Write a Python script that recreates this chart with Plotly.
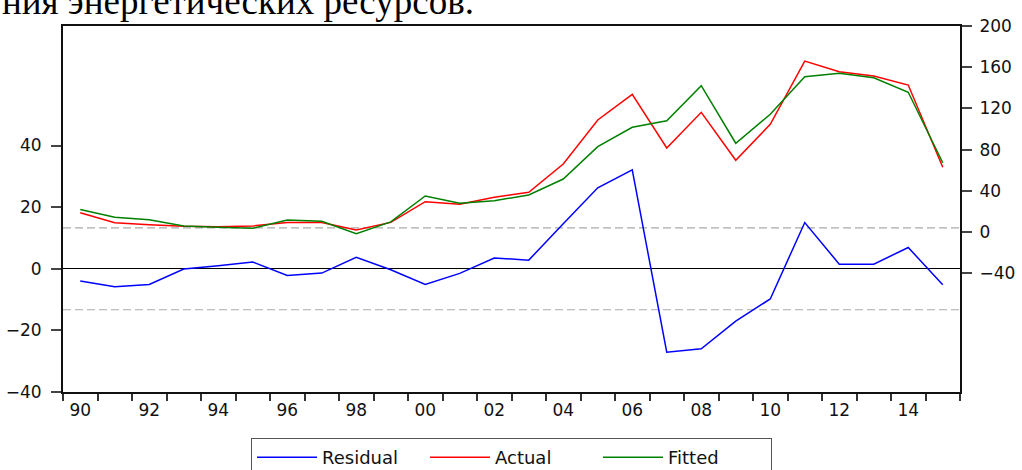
import plotly.graph_objects as go

# ---- data ----
years = list(range(1990, 2016))
residual = [-4.0, -5.8, -5.1, -0.1, 1.0, 2.2, -2.2, -1.4, 3.7, -0.3, -5.1, -1.5, 3.5, 2.8,
            14.6, 26.3, 32.1, -27.1, -26.0, -17.0, -9.8, 15.0, 1.5, 1.5, 6.9, -5.2]
actual = [18.8, 9.1, 7.2, 5.6, 5.2, 5.9, 9.4, 9.4, 2.0, 9.4, 29.5, 27.0, 33.8, 38.6,
          66.1, 108.8, 133.7, 81.6, 116.2, 69.7, 104.6, 166.0, 155.7, 151.5, 142.7, 62.9]
fitted = [22.0, 14.3, 12.0, 5.9, 4.6, 3.7, 11.7, 10.4, -1.6, 9.9, 35.0, 27.9, 30.5, 36.0,
          51.5, 82.9, 101.7, 108.1, 142.1, 86.2, 114.3, 150.8, 154.1, 149.8, 135.7, 67.3]
label_years = years[::2]
label_text = ["%02d" % (y % 100) for y in label_years]
left_ticks = [-40, -20, 0, 20, 40]
right_ticks = [-40, 0, 40, 80, 120, 160, 200]
resid_sd = 13.3
caption = "ния энергетических ресурсов."

W, H = 1022, 470
ML, MR, MT, MB = 63, 62, 26, 78
PH = H - MT - MB

fig = go.Figure()
fig.add_trace(go.Scatter(x=years, y=residual, name="Residual", mode="lines",
                         line=dict(color="#0000ff", width=1.5), yaxis="y"))
fig.add_trace(go.Scatter(x=years, y=actual, name="Actual", mode="lines",
                         line=dict(color="#ff0000", width=1.5), yaxis="y2"))
fig.add_trace(go.Scatter(x=years, y=fitted, name="Fitted", mode="lines",
                         line=dict(color="#008000", width=1.5), yaxis="y2"))

for v in (resid_sd, -resid_sd):
    fig.add_shape(type="line", xref="paper", x0=0, x1=1, yref="y", y0=v, y1=v,
                  line=dict(color="#aaaaaa", width=1.2, dash="8px,4px"), layer="below")

boundaries = [y - 0.5 for y in years] + [years[-1] + 0.5]
tickfont = dict(family="DejaVu Sans", size=17, color="#111")

fig.update_layout(
    width=W, height=H,
    margin=dict(l=ML, r=MR, t=MT, b=MB, autoexpand=False),
    paper_bgcolor="white", plot_bgcolor="white",
    showlegend=True,
    xaxis=dict(range=[years[0] - 0.5, years[-1] + 0.5], tickmode="array",
               tickvals=label_years, ticktext=label_text, ticks="",
               ticklabelstandoff=2, tickfont=tickfont,
               showline=True, linecolor="#111", linewidth=2, mirror=True,
               showgrid=False, zeroline=False,
               minor=dict(tickmode="array", tickvals=boundaries, ticks="outside",
                          ticklen=7, tickwidth=1.5, tickcolor="#333", showgrid=False)),
    yaxis=dict(range=[-40, 78.8], tickmode="array", tickvals=left_ticks,
               ticks="outside", ticklen=10, tickwidth=1.5, tickcolor="#444",
               ticklabelstandoff=6, tickfont=tickfont,
               showline=True, linecolor="#111", linewidth=2, mirror=True,
               showgrid=False, zeroline=True, zerolinecolor="#000", zerolinewidth=1.2),
    yaxis2=dict(range=[-155.2, 200], overlaying="y", side="right", tickmode="array",
                tickvals=right_ticks, ticks="outside", ticklen=10, tickwidth=1.5,
                tickcolor="#444", ticklabelstandoff=4, tickfont=tickfont,
                showline=True, linecolor="#111", linewidth=2,
                showgrid=False, zeroline=False),
    legend=dict(orientation="h", x=0.5, xanchor="center", y=-(438 - (MT + PH)) / PH,
                yanchor="top",
                bordercolor="#555", borderwidth=1, bgcolor="white",
                font=dict(family="DejaVu Sans", size=18, color="#111"),
                itemwidth=60, entrywidth=98, entrywidthmode="pixels",
                traceorder="normal"),
    annotations=[dict(text=caption, xref="paper", yref="paper",
                      x=-ML / (W - ML - MR), y=1 + 2 / PH,
                      xanchor="left", yanchor="bottom", showarrow=False,
                      font=dict(family="Liberation Serif", size=37, color="#000"))],
)

fig.write_html("out.html", config={"displayModeBar": False},
               post_script="document.body.style.margin='0';document.body.style.overflow='hidden';")
